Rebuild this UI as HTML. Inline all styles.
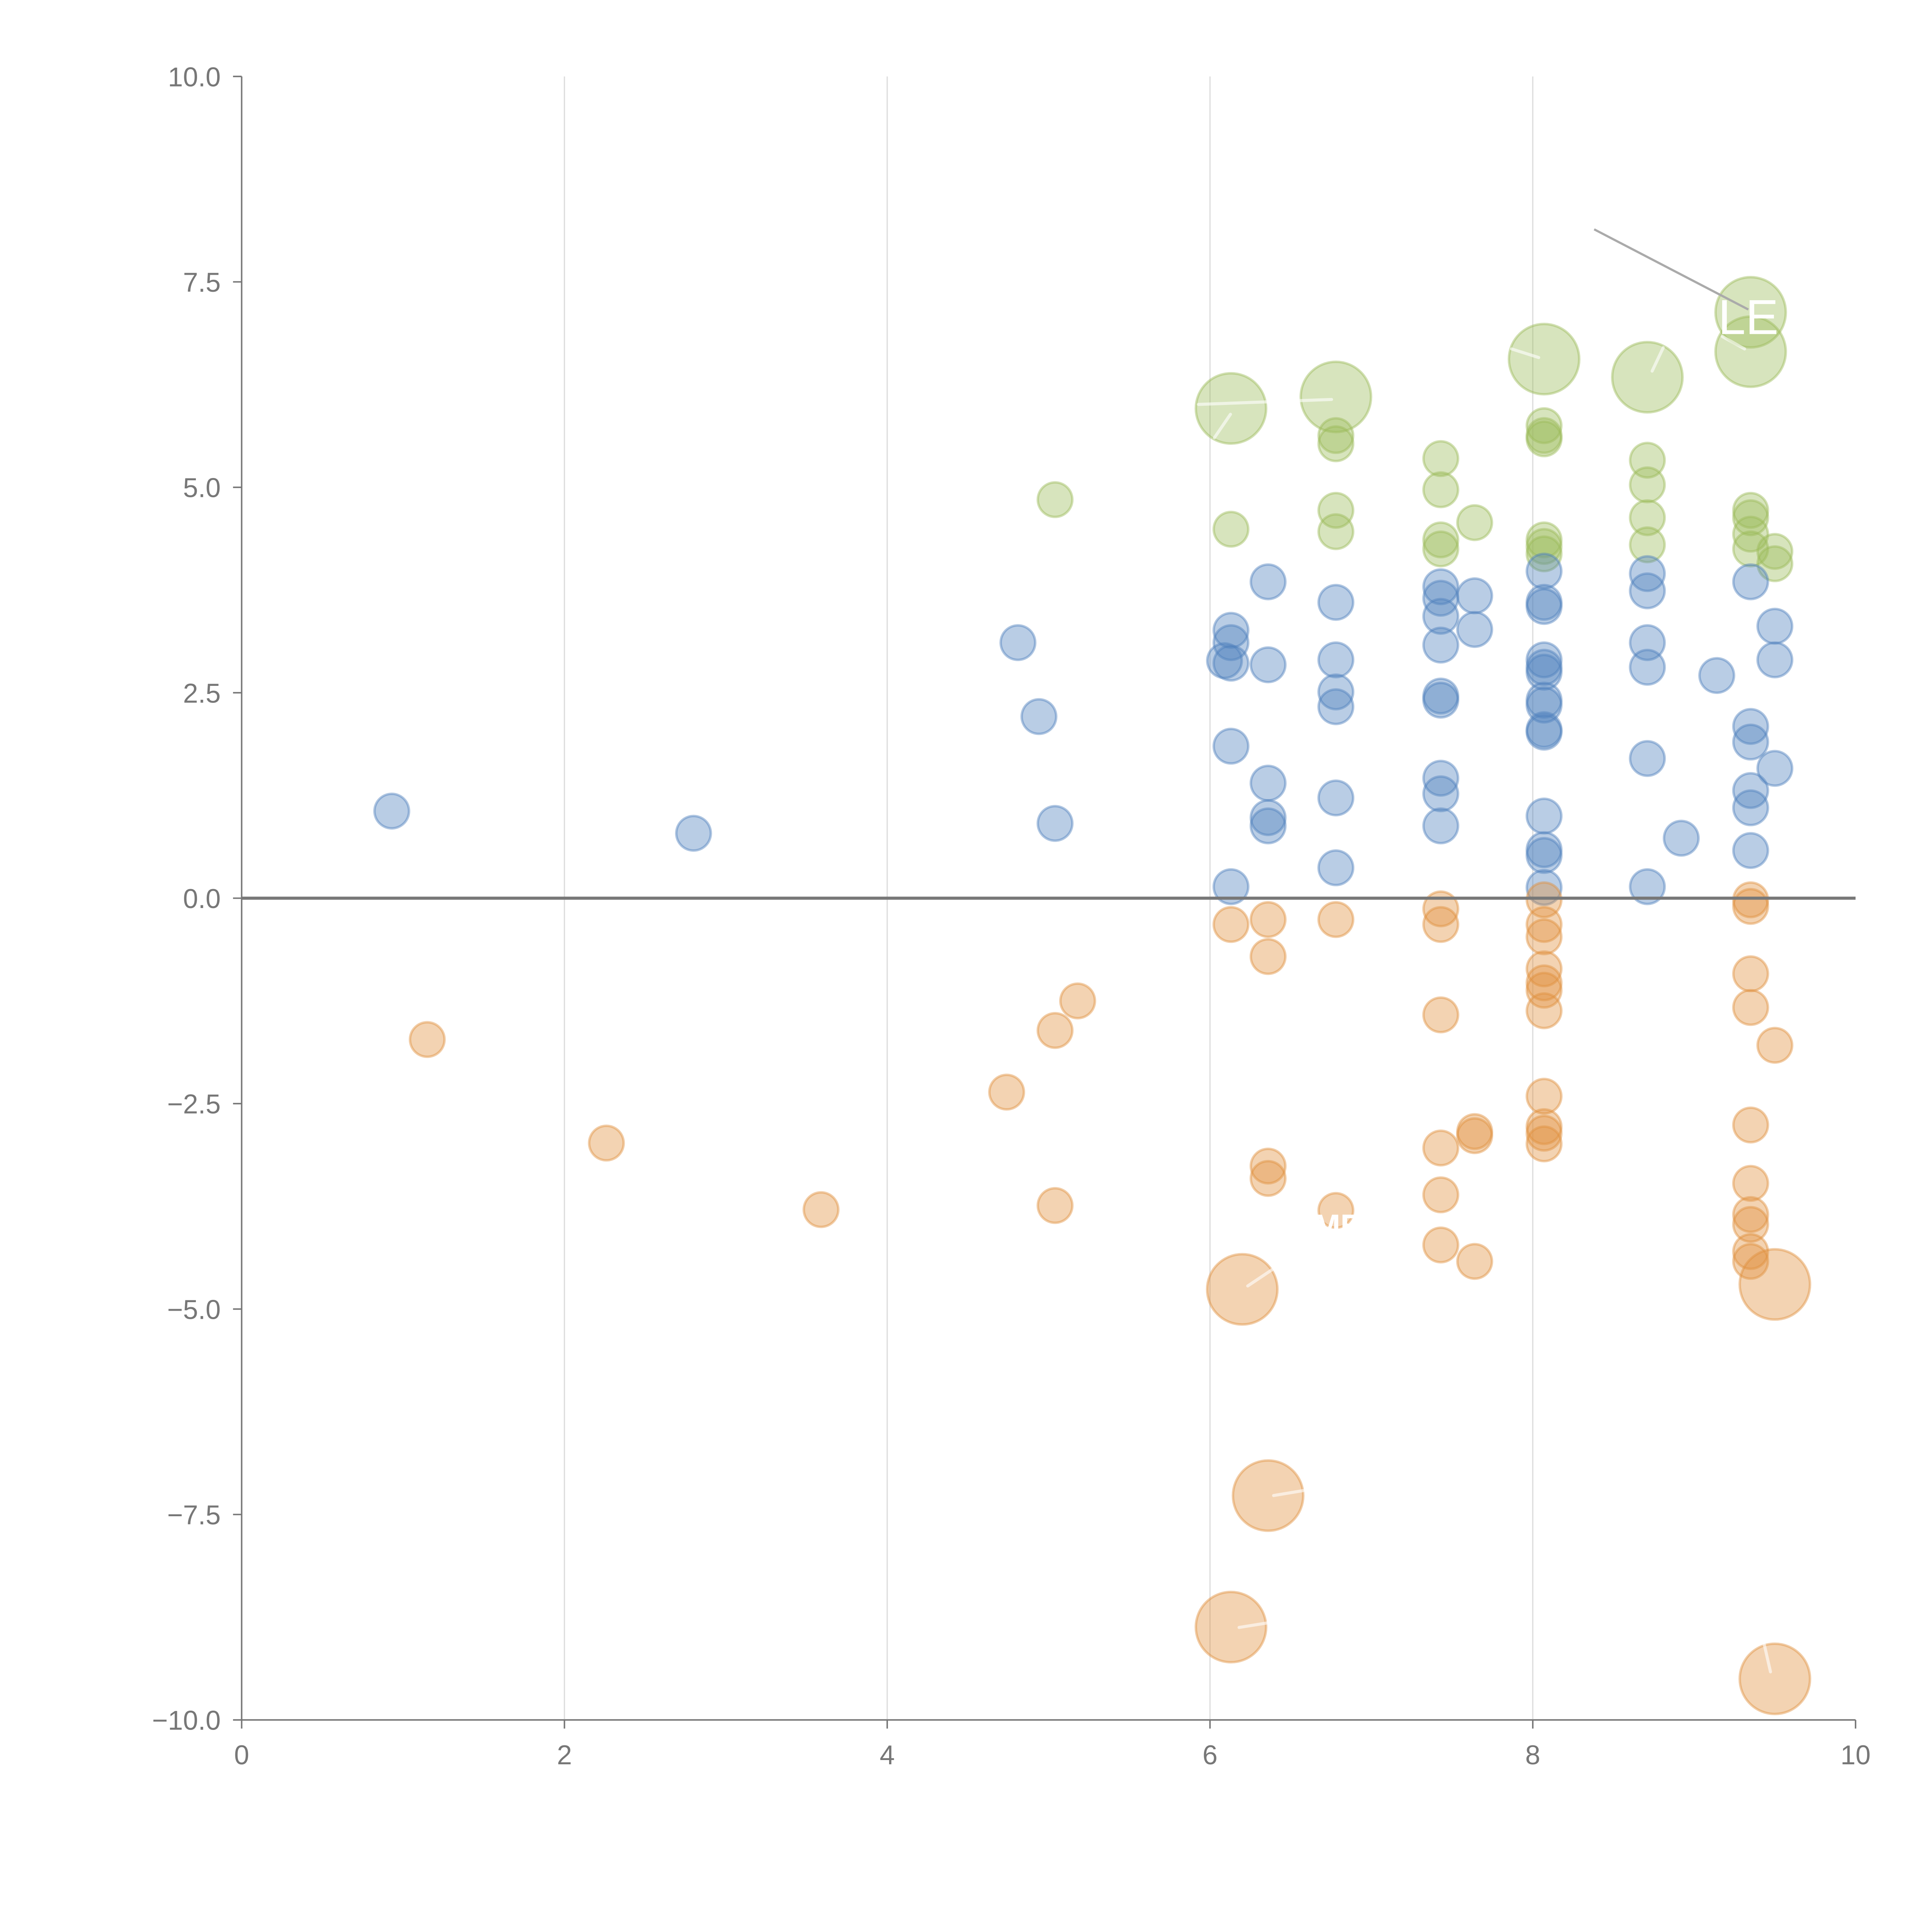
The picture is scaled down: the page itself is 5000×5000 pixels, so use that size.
<!DOCTYPE html>
<html><head><meta charset="utf-8"><style>
html,body{margin:0;padding:0;background:#fff;}
svg{display:block;}
text{font-family:"Liberation Sans",sans-serif;}
</style></head><body>
<svg id="chart" width="5000" height="5000" viewBox="0 0 1567 1567" xmlns="http://www.w3.org/2000/svg">
<g id="grid"></g>
<g id="axes"></g>
<g id="marks"></g>
<g id="annot"></g>
</svg>
<script>
const xTicks = [0,2,4,6,8,10];
const yTicks = [10,7.5,5,2.5,0,-2.5,-5,-7.5,-10];
const yTickLabels = ["10.0","7.5","5.0","2.5","0.0","\u22122.5","\u22125.0","\u22127.5","\u221210.0"];

const blueX = [0.93,2.8,4.81,4.94,5.04,6.13,6.13,6.09,6.13,6.13,6.13,6.36,6.36,6.36,6.36,6.36,6.78,6.78,6.78,6.78,6.78,6.78,7.43,7.43,7.43,7.43,7.43,7.43,7.43,7.43,7.43,7.64,7.64,8.07,8.07,8.07,8.07,8.07,8.07,8.07,8.07,8.07,8.07,8.07,8.07,8.07,8.07,8.71,8.71,8.71,8.71,8.71,8.71,8.92,9.14,9.35,9.35,9.35,9.35,9.35,9.35,9.5,9.5,9.5];
const blueY = [1.06,0.79,3.11,2.21,0.91,3.26,3.11,2.89,2.86,1.85,0.14,3.85,2.84,1.40,0.98,0.88,3.60,2.90,2.51,2.33,1.22,0.37,3.79,3.65,3.43,3.08,2.46,2.41,1.46,1.27,0.88,3.68,3.27,3.98,3.60,3.55,2.90,2.81,2.75,2.41,2.35,2.05,2.02,1.0,0.59,0.52,0.13,3.95,3.74,3.11,2.81,1.70,0.14,0.73,2.71,3.85,2.09,1.90,1.31,1.10,0.58,3.31,2.90,1.58];

const orangeX = [1.15,2.26,3.59,4.74,5.04,5.18,5.04,6.13,6.36,6.36,6.36,6.36,6.78,6.78,7.43,7.43,7.43,7.43,7.43,7.43,7.64,7.64,7.64,8.07,8.07,8.07,8.07,8.07,8.07,8.07,8.07,8.07,8.07,8.07,9.35,9.35,9.35,9.35,9.35,9.35,9.35,9.35,9.35,9.35,9.5];
const orangeY = [-1.72,-2.98,-3.79,-2.36,-1.61,-1.25,-3.74,-0.32,-0.26,-0.71,-3.26,-3.41,-0.26,-3.80,-0.13,-0.32,-1.42,-3.04,-3.61,-4.22,-2.84,-2.89,-4.42,-0.02,-0.32,-0.47,-0.86,-1.03,-1.12,-1.37,-2.41,-2.78,-2.86,-2.99,-0.02,-0.10,-0.92,-1.33,-2.76,-3.47,-3.85,-3.97,-4.30,-4.42,-1.79];
const orangeBigX = [6.2,9.5,6.36,6.13,9.5];
const orangeBigY = [-4.76,-4.70,-7.27,-8.87,-9.5];

const greenX = [5.04,6.13,6.78,6.78,6.78,6.78,7.43,7.43,7.43,7.43,7.64,8.07,8.07,8.07,8.07,8.07,8.07,8.71,8.71,8.71,8.71,9.35,9.35,9.35,9.35,9.5,9.5];
const greenY = [4.85,4.49,5.63,5.53,4.72,4.46,5.35,4.97,4.36,4.25,4.57,5.75,5.63,5.59,4.36,4.28,4.19,5.33,5.03,4.63,4.30,4.72,4.63,4.43,4.25,4.22,4.07];
const greenBigX = [6.13,6.78,8.07,8.71,9.35,9.35];
const greenBigY = [5.96,6.10,6.56,6.34,7.13,6.65];

const NS = "http://www.w3.org/2000/svg";
const X0=196, X1=1505, Y0=62, Y1=1395;
function sx(v){return X0+(v-0)/(10-0)*(X1-X0);}
function sy(v){return Y1-(v-(-10))/(20)*(Y1-Y0);}
function mk(tag, attrs, parent){const e=document.createElementNS(NS,tag);for(const k in attrs)e.setAttribute(k,attrs[k]);parent.appendChild(e);return e;}
const grid=document.getElementById('grid'), axes=document.getElementById('axes'), marks=document.getElementById('marks'), annot=document.getElementById('annot');

xTicks.forEach((t)=>{
  if(t>0&&t<10){const g=mk('line',{x1:sx(t),x2:sx(t),y1:Y0,y2:Y1,stroke:'#dddddd','stroke-width':1},grid);
  
  }
  const tk=mk('line',{x1:sx(t),x2:sx(t),y1:Y1,y2:Y1+7,stroke:'#777','stroke-width':1.2},axes);
  
  
  const tx=mk('text',{x:sx(t),y:Y1+36,'text-anchor':'middle','font-size':22,fill:'#777'},axes);
  tx.textContent=String(t);
  
  
});
yTicks.forEach((t,i)=>{
  const tk=mk('line',{x1:X0-7,x2:X0,y1:sy(t),y2:sy(t),stroke:'#777','stroke-width':1.2},axes);
  
  
  const tx=mk('text',{x:X0-17,y:sy(t)+8,'text-anchor':'end','font-size':22,fill:'#777'},axes);
  tx.textContent=yTickLabels[i];
  
  
});
const ya=mk('line',{x1:X0,x2:X0,y1:Y0,y2:Y1,stroke:'#777','stroke-width':1.2},axes);


const xa=mk('line',{x1:X0,x2:X1,y1:Y1,y2:Y1,stroke:'#777','stroke-width':1.2},axes);



function series(xs,ys,r,fill,stroke,name){
  xs.forEach((x,i)=>{
    const c=mk('circle',{cx:sx(x),cy:sy(ys[i]),r:r,fill:fill,'fill-opacity':0.4,stroke:stroke,'stroke-opacity':0.45,'stroke-width':2},marks);
    
    
  });
}
series(greenX,greenY,14,'#9bbb59','#9bbb59','green-bubble');
series(greenBigX,greenBigY,28.5,'#9bbb59','#9bbb59','green-large-bubble');
series(blueX,blueY,14,'#4f81bd','#4f81bd','blue-bubble');
series(orangeX,orangeY,14,'#e0913f','#e0913f','orange-bubble');
series(orangeBigX,orangeBigY,28.5,'#e0913f','#e0913f','orange-large-bubble');

const zl=mk('line',{x1:X0,x2:X1,y1:sy(0),y2:sy(0),stroke:'#777','stroke-width':2.5},annot);



[[972,328,1080,324],[985,355,998,336],[1012,1043,1033,1029],[1033,1213,1057,1209],[1005,1320,1030,1316],[1436,1356,1431,1334],[1226,283,1248,290],[1340,301,1349,282],[1397,273,1415,283]].forEach(s=>{
  const l=mk('line',{x1:s[0],y1:s[1],x2:s[2],y2:s[3],stroke:'#ffffff','stroke-opacity':0.6,'stroke-width':2.5,'stroke-linecap':'round'},annot);
  
  
});
const ld=mk('line',{x1:1293,y1:186,x2:1418,y2:251,stroke:'#aaa','stroke-width':1.8},annot);


const le=mk('text',{x:1418,y:271,'text-anchor':'middle','font-size':40,fill:'#ffffff'},annot);
le.textContent='LE';


const me=mk('text',{x:1085,y:1003,'text-anchor':'middle','font-size':26,'font-weight':'bold',fill:'#ffffff'},annot);
me.textContent='ME';


</script>
</body></html>
